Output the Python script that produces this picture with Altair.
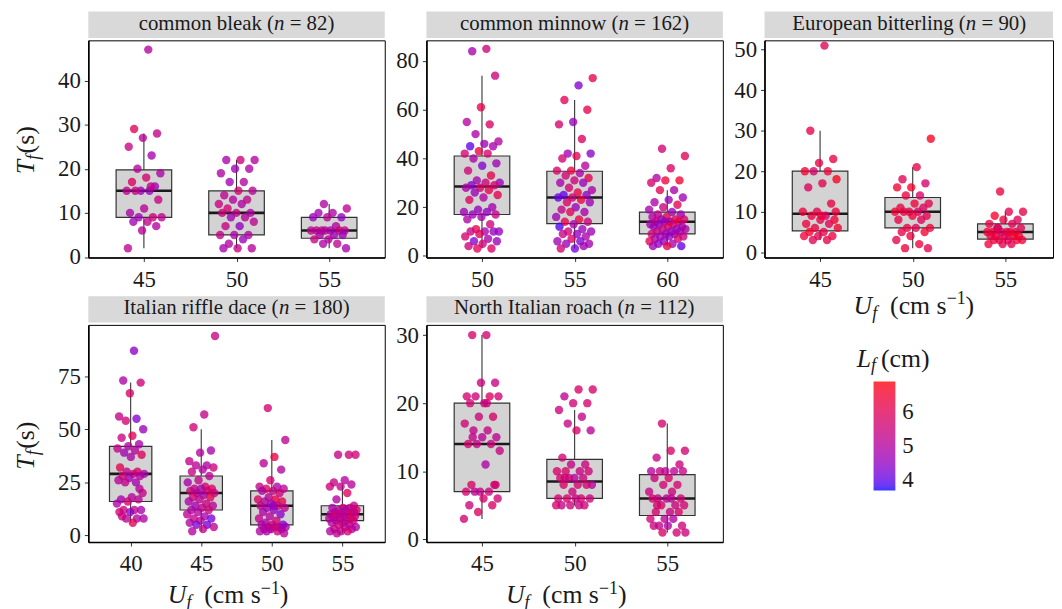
import altair as alt
import pandas as pd

FONT = "Liberation Serif"
INK = "#1a1a1a"

SPECIES = ["common bleak", "common minnow", "European bitterling",
           "Italian riffle dace", "North Italian roach"]
SAMPLE_N = [82, 162, 90, 180, 112]

# ---------------- common bleak ----------------
BLEAK_U = [45, 50, 55]
BLEAK_T = [
    [47, 29, 28, 27, 25, 23, 20, 19, 18, 17, 16, 15, 15, 15, 15, 13, 11, 10, 9, 9, 9, 8, 8, 7, 6, 2, 16],
    [22, 22, 22, 20, 20, 19, 17, 17, 15, 15, 14, 13, 13, 12, 12, 11, 10, 10, 10, 9, 9, 8, 7, 7, 5, 5, 5, 4, 3, 2, 2, 2],
    [12, 11, 10, 10, 9, 9, 9, 7, 6, 6, 6, 6, 6, 6, 6, 5, 5, 5, 4, 4, 3, 3, 2],
]
BLEAK_L = [
    [5.0, 6.0, 5.3, 5.1, 5.4, 4.8, 5.1, 4.9, 5.7, 5.9, 4.7, 4.7, 5.2, 4.6, 5.3, 5.4, 5.1, 4.9, 5.5, 4.7,
     5.2, 5.3, 4.7, 5.0, 5.1, 5.2, 5.3],
    [5.0, 5.5, 4.8, 4.9, 4.7, 4.9, 5.0, 4.7, 5.1, 5.6, 5.2, 5.3, 5.0, 5.4, 4.9, 5.6, 4.9, 5.3, 5.5, 5.1,
     4.7, 5.2, 4.5, 5.4, 5.0, 4.9, 5.3, 4.6, 5.0, 5.1, 5.3, 4.8],
    [5.0, 5.2, 4.9, 4.7, 4.5, 5.1, 4.6, 5.0, 5.3, 5.1, 4.9, 5.2, 5.5, 5.0, 5.2, 4.7, 4.9, 4.6, 5.1, 5.4,
     5.2, 4.9, 4.8],
]
BLEAK_Q1 = [9, 5, 4.25]
BLEAK_MED = [15, 10, 6]
BLEAK_Q3 = [19.75, 15, 9]
BLEAK_LO = [2, 2, 2]
BLEAK_HI = [28, 22, 12]
BLEAK_YTICKS = [0, 10, 20, 30, 40]
BLEAK_YDOM = [-0.1, 49.1]

# ---------------- common minnow ----------------
MINNOW_U = [50, 55, 60]
MINNOW_T = [
    [85, 84, 74, 61, 55, 54, 50, 47, 46, 45, 45, 43, 42, 42, 40, 38, 37, 35, 33, 31, 30, 30, 29, 29, 28, 28, 27,
     26, 25, 24, 23, 20, 19, 18, 18, 17, 17, 16, 15, 13, 11, 10, 10, 10, 10, 9, 8, 7, 6, 6, 5, 4, 3, 3],
    [73, 70, 64, 60, 55, 54, 48, 42, 42, 41, 40, 37, 35, 35, 34, 33, 32, 31, 30, 30, 28, 27, 26, 25, 25, 24, 24,
     23, 22, 22, 20, 19, 18, 18, 16, 15, 14, 14, 13, 12, 11, 10, 10, 9, 9, 8, 7, 6, 6, 5, 5, 3, 3, 4],
    [44, 41, 36, 32, 31, 31, 30, 27, 27, 24, 23, 22, 21, 20, 19, 18, 17, 17, 16, 16, 15, 15, 15, 14, 14, 14, 14,
     13, 13, 13, 12, 12, 12, 11, 11, 11, 10, 10, 10, 9, 9, 9, 8, 8, 8, 7, 7, 6, 6, 5, 5, 4, 4, 4],
]
MINNOW_L = [
    [5.5, 4.8, 5.5, 6.2, 5.0, 5.8, 4.9, 5.0, 4.7, 4.0, 4.8, 6.3, 5.6, 5.7, 4.9, 4.7, 4.3, 5.6, 6.2, 4.8,
     4.6, 5.5, 4.4, 5.7, 5.8, 4.9, 6.2, 4.6, 6.1, 5.0, 5.9, 4.8, 4.6, 4.7, 4.5, 4.6, 5.3, 4.8, 4.9, 5.5,
     6.2, 4.6, 4.8, 5.4, 4.5, 6.0, 5.7, 4.8, 4.3, 4.6, 5.6, 5.5, 5.8, 6.0],
    [6.2, 4.3, 6.0, 6.2, 4.6, 5.7, 5.9, 4.7, 4.4, 6.1, 5.6, 5.0, 6.3, 5.8, 4.9, 5.6, 6.2, 5.5, 4.8, 4.6,
     5.7, 4.9, 6.2, 4.0, 4.5, 5.5, 4.1, 6.3, 5.8, 4.7, 4.6, 5.3, 4.8, 6.0, 4.7, 6.3, 6.2, 5.5, 4.8, 3.9,
     4.6, 5.5, 4.7, 4.5, 5.4, 4.9, 5.8, 4.7, 4.3, 4.6, 4.8, 4.2, 5.6, 4.7],
    [5.6, 6.0, 5.8, 5.0, 6.5, 6.4, 5.7, 4.8, 6.1, 4.7, 4.6, 4.9, 6.1, 5.5, 4.8, 4.6, 5.4, 4.7, 6.2, 4.9,
     6.3, 4.6, 5.7, 4.8, 5.5, 6.1, 4.7, 4.9, 5.8, 4.5, 4.8, 6.0, 4.6, 4.7, 5.5, 4.9, 4.6, 5.3, 4.8, 4.5,
     5.6, 4.7, 4.8, 5.4, 4.6, 4.7, 5.7, 4.6, 6.0, 4.8, 4.5, 4.0, 6.2, 4.7],
]
MINNOW_Q1 = [17, 13.25, 9]
MINNOW_MED = [28.5, 24, 14]
MINNOW_Q3 = [41, 34.75, 18]
MINNOW_LO = [3, 3, 4]
MINNOW_HI = [74, 64, 27]
MINNOW_YTICKS = [0, 20, 40, 60, 80]
MINNOW_YDOM = [-0.65, 88.5]

# ---------------- European bitterling ----------------
BITTER_U = [45, 50, 55]
BITTER_T = [
    [51, 30, 23, 22, 20, 20, 20, 18, 17, 16, 12, 10, 10, 9, 9, 8, 8, 7, 7, 6, 6, 5, 5, 4, 4, 4, 3, 3, 10, 9],
    [28, 21, 18, 17, 16, 16, 14, 14, 12, 12, 11, 11, 10, 10, 10, 10, 9, 9, 8, 8, 6, 6, 6, 5, 5, 4, 3, 2, 1, 1],
    [15, 10, 10, 9, 8, 8, 7, 7, 6, 6, 5, 5, 5, 5, 5, 5, 4, 4, 4, 4, 4, 3, 3, 3, 3, 3, 2, 2, 2, 6],
]
BITTER_L = [
    [6.0, 6.2, 6.3, 6.2, 6.5, 6.4, 5.8, 6.7, 6.1, 5.9, 6.3, 6.2, 6.4, 5.6, 6.3, 6.5, 6.2, 6.4, 6.1, 6.3,
     6.5, 6.2, 6.6, 6.3, 6.1, 6.4, 6.2, 6.0, 6.3, 6.4],
    [6.7, 6.2, 6.1, 5.7, 6.6, 6.5, 5.8, 6.3, 6.2, 6.4, 6.3, 5.9, 6.2, 6.5, 5.9, 6.3, 6.1, 6.4, 6.2, 6.0,
     6.3, 6.4, 6.1, 6.2, 6.5, 6.3, 6.2, 6.4, 6.3, 6.1],
    [6.3, 6.2, 6.1, 6.6, 5.9, 6.3, 6.2, 6.0, 6.4, 6.1, 6.3, 6.5, 6.2, 6.0, 6.4, 6.3, 6.2, 6.5, 6.1, 6.3,
     6.6, 6.2, 6.4, 6.0, 6.3, 6.5, 6.2, 6.4, 6.1, 5.8],
]
BITTER_Q1 = [5.25, 6, 3.25]
BITTER_MED = [9.5, 10, 5]
BITTER_Q3 = [20, 13.5, 7]
BITTER_LO = [3, 1, 2]
BITTER_HI = [30, 21, 10]
BITTER_YTICKS = [0, 10, 20, 30, 40, 50]
BITTER_YDOM = [-1.3, 52.3]

# ---------------- Italian riffle dace ----------------
DACE_U = [40, 45, 50, 55]
DACE_T = [
    [87, 73, 72, 67, 56, 55, 54, 50, 47, 46, 43, 42, 41, 40, 39, 38, 37, 32, 30, 30, 29, 29, 28, 28, 27, 26, 25,
     25, 20, 18, 17, 17, 16, 15, 12, 12, 12, 11, 11, 8, 8, 8, 6, 9, 22],
    [94, 57, 51, 40, 39, 35, 33, 33, 32, 31, 30, 28, 26, 25, 23, 22, 22, 22, 21, 21, 20, 20, 19, 18, 18, 17, 16,
     15, 14, 14, 13, 12, 12, 11, 10, 9, 8, 8, 7, 6, 5, 5, 4, 3, 2],
    [60, 45, 37, 34, 31, 26, 23, 23, 22, 22, 21, 21, 20, 18, 17, 17, 16, 16, 15, 14, 14, 13, 13, 12, 11, 10, 9,
     8, 7, 6, 5, 5, 5, 4, 4, 4, 4, 3, 3, 3, 2, 2, 2, 1, 14],
    [38, 38, 38, 26, 25, 24, 23, 23, 20, 17, 14, 13, 13, 13, 12, 12, 12, 11, 11, 10, 10, 10, 10, 9, 9, 9, 8, 8,
     8, 7, 7, 7, 6, 6, 5, 5, 4, 4, 3, 3, 2, 2, 2, 1, 11],
]
DACE_L = [
    [4.4, 4.9, 5.5, 5.8, 5.3, 4.3, 5.6, 4.6, 6.0, 5.4, 4.8, 5.0, 5.3, 5.1, 4.7, 5.9, 4.9, 6.1, 5.8, 5.2,
     4.8, 5.5, 5.7, 5.0, 4.7, 5.1, 4.8, 5.3, 5.4, 5.0, 4.8, 5.2, 5.6, 4.9, 5.3, 5.5, 4.8, 4.4, 5.6, 5.0,
     5.2, 4.9, 6.0, 5.4, 5.1],
    [5.4, 5.3, 5.6, 4.8, 5.0, 5.3, 4.9, 5.1, 5.5, 5.0, 5.4, 5.1, 5.3, 4.8, 5.7, 5.2, 5.9, 4.9, 5.5, 5.8,
     5.0, 5.4, 4.8, 5.6, 6.1, 5.2, 4.9, 5.4, 4.7, 5.1, 5.3, 4.9, 5.5, 5.0, 5.2, 4.8, 5.3, 4.2, 5.1, 4.9,
     4.1, 4.3, 5.2, 5.4, 5.0],
    [5.6, 5.2, 6.3, 5.1, 5.0, 5.7, 5.3, 4.9, 6.0, 5.2, 5.4, 4.9, 5.5, 5.1, 5.8, 6.2, 5.0, 6.1, 4.8, 5.3,
     5.6, 4.7, 5.2, 4.6, 4.9, 4.4, 5.1, 5.3, 5.5, 4.9, 4.2, 5.4, 4.9, 5.1, 5.3, 4.8, 5.6, 5.0, 4.7, 5.2,
     5.0, 5.4, 4.9, 5.1, 4.6],
    [5.5, 5.3, 5.6, 5.0, 5.4, 5.1, 5.3, 5.5, 5.9, 5.0, 5.3, 5.6, 4.9, 5.4, 5.2, 5.7, 4.8, 5.1, 5.5, 5.3,
     4.9, 5.6, 5.2, 5.4, 5.0, 5.8, 6.0, 5.3, 5.1, 5.4, 4.9, 5.6, 5.2, 5.0, 5.3, 5.5, 4.9, 5.2, 5.4, 5.1,
     5.3, 5.0, 5.6, 5.2, 5.4],
]
DACE_Q1 = [16, 12, 5, 7]
DACE_MED = [29, 20, 14, 10]
DACE_Q3 = [42, 28, 21, 14]
DACE_LO = [6, 2, 1, 1]
DACE_HI = [72, 50, 45, 24]
DACE_YTICKS = [0, 25, 50, 75]
DACE_YDOM = [-3.1, 99.2]

# ---------------- North Italian roach ----------------
ROACH_U = [45, 50, 55]
ROACH_T = [
    [30, 30, 23, 23, 21, 21, 21, 21, 20, 20, 18, 18, 17, 16, 16, 15, 15, 14, 14, 14, 13, 11, 8, 8, 7, 7, 7, 7,
     6, 6, 5, 5, 4, 3, 20, 15, 8],
    [22, 22, 21, 20, 20, 19, 18, 17, 16, 16, 12, 11, 11, 10, 10, 10, 10, 9, 9, 9, 9, 8, 8, 8, 8, 7, 6, 6, 6, 6,
     6, 5, 5, 5, 5, 5, 9],
    [17, 13, 13, 12, 11, 10, 10, 10, 10, 10, 9, 9, 8, 8, 7, 7, 6, 6, 6, 6, 5, 5, 5, 4, 4, 4, 3, 3, 3, 2, 2, 2,
     2, 1, 1, 1, 6, 5],
]
ROACH_L = [
    [5.6, 5.7, 5.4, 5.5, 5.7, 5.9, 5.5, 5.6, 5.4, 5.7, 5.8, 5.5, 5.6, 5.4, 5.3, 5.2, 5.1, 5.7, 5.5, 5.4,
     5.4, 4.9, 5.8, 5.6, 5.3, 5.7, 5.5, 5.2, 5.6, 5.7, 5.5, 5.8, 5.9, 5.6, 5.5, 5.3, 5.7],
    [5.7, 5.8, 5.2, 5.7, 5.6, 5.5, 5.3, 5.4, 5.1, 5.8, 5.6, 5.5, 5.3, 5.7, 5.4, 5.8, 5.6, 5.0, 5.7, 5.5,
     5.4, 5.0, 5.6, 5.8, 5.7, 5.5, 5.6, 5.7, 5.8, 5.5, 5.4, 5.3, 5.6, 5.5, 5.7, 5.4, 5.6],
    [5.7, 5.6, 5.8, 5.4, 5.5, 5.2, 5.0, 5.1, 5.4, 5.3, 5.8, 5.5, 5.7, 5.6, 5.4, 5.5, 5.3, 5.6, 5.1, 5.7,
     5.5, 5.8, 5.6, 5.4, 5.7, 5.8, 5.1, 5.6, 4.9, 5.3, 5.5, 5.0, 5.4, 5.6, 5.8, 5.5, 5.2, 5.7],
]
ROACH_Q1 = [7, 6, 3.5]
ROACH_MED = [14, 8.5, 6]
ROACH_Q3 = [20, 11.75, 9.5]
ROACH_LO = [3, 5, 1]
ROACH_HI = [30, 19, 17]
ROACH_YTICKS = [0, 10, 20, 30]
ROACH_YDOM = [-0.4, 31.5]

LF_DOMAIN = [3.68, 6.9]
LF_TICKS = [4, 5, 6]

# ---------------- helpers ----------------
W_REG = {' ': 250, '(': 333, ')': 333, '=': 564, '\u2212': 564, 'a': 444, 'b': 500, 'c': 444, 'd': 500,
         'e': 444, 'f': 333, 'g': 500, 'h': 500, 'i': 278, 'j': 278, 'k': 500, 'l': 278, 'm': 778,
         'n': 500, 'o': 500, 'p': 500, 'q': 500, 'r': 333, 's': 389, 't': 278, 'u': 500, 'v': 500,
         'w': 722, 'x': 500, 'y': 500, 'z': 444, 'E': 611, 'I': 333, 'N': 722, 'R': 667}
W_ITA = {'n': 500, 'f': 278, 'T': 556, 'U': 722, 'L': 556}


def tw(s, size, italic=False):
    tab = W_ITA if italic else W_REG
    return sum(tab.get(c, 500) for c in s) * size / 1000.0


ONE = pd.DataFrame({"k": [0]})


def txt(s, x, y, size, italic=False, angle=None):
    kw = dict(text=s, font=FONT, fontSize=size, fontStyle="italic" if italic else "normal",
              align="left", baseline="alphabetic", color=INK)
    if angle is not None:
        kw["angle"] = angle
    return alt.Chart(ONE).mark_text(**kw).encode(x=alt.value(x), y=alt.value(y))


def strip(name, n, width, center, size=21, base=-10.7):
    pre = f"{name} ("
    suf = f"= {n})"
    sp = tw(" ", size)
    w = tw(pre, size) + tw("n", size, True) + sp + tw(suf, size)
    x0 = center - w / 2
    rect = alt.Chart(ONE).mark_rect(fill="#D9D9D9").encode(
        x=alt.value(0), x2=alt.value(width), y=alt.value(-29), y2=alt.value(-2.3))
    x1 = x0 + tw(pre, size)
    x2 = x1 + tw("n", size, True) + sp
    return [rect, txt(pre, x0, base, size), txt("n", x1, base, size, True), txt(suf, x2, base, size)]


def ytitle(y0, xb=-55, size=26, sub=18):
    wT = tw("T", size, True)
    wf = tw("f", sub, True)
    return [txt("T", xb, y0, size, True, 270),
            txt("f", xb + 5, y0 - wT, sub, True, 270),
            txt("(s)", xb, y0 - wT - wf - 1.5, size, False, 270)]


def xtitle(center, yb, size=26, sub=18):
    wU = tw("U", size, True)
    wf = tw("f", sub, True)
    gap = 2 * tw(" ", size)
    w1 = tw("(cm s", size)
    w2 = tw("\u22121", sub)
    w3 = tw(")", size)
    total = wU + wf + gap + w1 + w2 + w3
    x0 = center - total / 2
    return [txt("U", x0, yb, size, True),
            txt("f", x0 + wU, yb + 5, sub, True),
            txt("(cm s", x0 + wU + wf + gap, yb, size),
            txt("\u22121", x0 + wU + wf + gap + w1, yb - 10, sub),
            txt(")", x0 + wU + wf + gap + w1 + w2, yb, size)]


CSCALE = alt.Scale(domain=LF_DOMAIN, range=["#0000FF", "#FF0000"], interpolate="lab")
LEG = alt.Legend(orient="none", legendX=792, legendY=344, title=None, values=LF_TICKS,
                 gradientLength=110, gradientThickness=22, gradientStrokeWidth=0,
                 labelFont=FONT, labelFontSize=23, labelColor=INK, labelOffset=7,
                 direction="vertical", labelOverlap=False)


def panel(U, T, L, Q1, MED, Q3, LO, HI, yticks, ydom, name, n,
          width=299, height=219, xhi=None, strip_center=None):
    k = len(U)
    xdom = [0.4, k + 0.6] if xhi is None else [0.4, xhi]
    rows = []
    for i, (ts, ls) in enumerate(zip(T, L)):
        for j, (t, l) in enumerate(zip(ts, ls)):
            jit = (((j + 1) * 0.6180339887 + 0.37 * i) % 1.0) * 2 - 1
            rows.append({"pos": i + 1, "xj": i + 1 + 0.2 * jit, "t": t, "L": l})
    pts = pd.DataFrame(rows)
    box = pd.DataFrame({"pos": list(range(1, k + 1)), "q1": Q1, "med": MED, "q3": Q3,
                        "lo": LO, "hi": HI})
    xs = alt.Scale(domain=xdom, nice=False, zero=False)
    ys = alt.Scale(domain=ydom, nice=False, zero=False)
    labels = "[" + ",".join(f"'{u}'" for u in U) + "][datum.value - 1]"
    xa = alt.Axis(values=list(range(1, k + 1)), labelExpr=labels, title=None,
                  labelFont=FONT, labelFontSize=23, labelPadding=7)
    ya = alt.Axis(values=yticks, title=None, labelFont=FONT, labelFontSize=23, labelPadding=4)
    base = alt.Chart(box).transform_calculate(xl="datum.pos - 0.3", xr="datum.pos + 0.3")
    whisk = base.mark_rule(color="#333333", strokeWidth=1.1).encode(
        x=alt.X("pos:Q", scale=xs, axis=xa), y=alt.Y("lo:Q", scale=ys, axis=ya), y2="hi:Q")
    rect = base.mark_rect(fill="#D3D3D3", stroke="#333333", strokeWidth=1.2).encode(
        x=alt.X("xl:Q", scale=xs, axis=xa), x2="xr:Q",
        y=alt.Y("q1:Q", scale=ys, axis=ya), y2="q3:Q")
    med = base.mark_rule(color="#1a1a1a", strokeWidth=2.6).encode(
        x=alt.X("xl:Q", scale=xs, axis=xa), x2="xr:Q", y=alt.Y("med:Q", scale=ys, axis=ya))
    dots = alt.Chart(pts).mark_circle(size=72, opacity=0.78).encode(
        x=alt.X("xj:Q", scale=xs, axis=xa), y=alt.Y("t:Q", scale=ys, axis=ya),
        color=alt.Color("L:Q", scale=CSCALE, legend=LEG))
    sc = width / 2 if strip_center is None else strip_center
    return [whisk, rect, med, dots] + strip(name, n, width, sc)


p1_layers = panel(BLEAK_U, BLEAK_T, BLEAK_L, BLEAK_Q1, BLEAK_MED, BLEAK_Q3, BLEAK_LO, BLEAK_HI,
                  BLEAK_YTICKS, BLEAK_YDOM, SPECIES[0], SAMPLE_N[0]) + ytitle(135)
p2_layers = panel(MINNOW_U, MINNOW_T, MINNOW_L, MINNOW_Q1, MINNOW_MED, MINNOW_Q3, MINNOW_LO, MINNOW_HI,
                  MINNOW_YTICKS, MINNOW_YDOM, SPECIES[1], SAMPLE_N[1])
P3_W = 291
p3_layers = panel(BITTER_U, BITTER_T, BITTER_L, BITTER_Q1, BITTER_MED, BITTER_Q3, BITTER_LO, BITTER_HI,
                  BITTER_YTICKS, BITTER_YDOM, SPECIES[2], SAMPLE_N[2], width=P3_W,
                  xhi=0.4 + P3_W * 3.2 / 299, strip_center=146) + xtitle(150.7, 219 + 57)
p4_layers = panel(DACE_U, DACE_T, DACE_L, DACE_Q1, DACE_MED, DACE_Q3, DACE_LO, DACE_HI,
                  DACE_YTICKS, DACE_YDOM, SPECIES[3], SAMPLE_N[3]) + ytitle(146) + xtitle(141, 219 + 62)
legend_title = [txt("L", 434, 42, 26, True), txt("f", 434 + tw("L", 26, True), 47, 18, True),
                txt("(cm)", 434 + tw("L", 26, True) + tw("f", 18, True) + 5, 42, 26)]
p5_layers = panel(ROACH_U, ROACH_T, ROACH_L, ROACH_Q1, ROACH_MED, ROACH_Q3, ROACH_LO, ROACH_HI,
                  ROACH_YTICKS, ROACH_YDOM, SPECIES[4], SAMPLE_N[4]) + xtitle(141, 219 + 62) + legend_title

p1 = alt.layer(*p1_layers).properties(width=299, height=219)
p2 = alt.layer(*p2_layers).properties(width=299, height=219)
p3 = alt.layer(*p3_layers).properties(width=P3_W, height=219)
p4 = alt.layer(*p4_layers).properties(width=299, height=219)
p5 = alt.layer(*p5_layers).properties(width=299, height=219)

chart = alt.concat(
    p1, p2, p3, p4, p5, columns=3,
    spacing={"row": 68, "column": 42}, bounds="flush"
).resolve_scale(
    x="independent", y="independent", color="shared"
).properties(
    padding={"left": 4, "top": 0, "right": 0, "bottom": 0}
).configure_view(
    stroke="black", strokeWidth=1
).configure_axis(
    domainColor="black", domainWidth=1.6, tickColor="#333333", tickSize=4, tickWidth=1,
    labelFont=FONT, labelFontSize=23, labelColor=INK, grid=False, labelPadding=4
)

chart.save("out.html", embed_options={"renderer": "svg", "actions": False})
